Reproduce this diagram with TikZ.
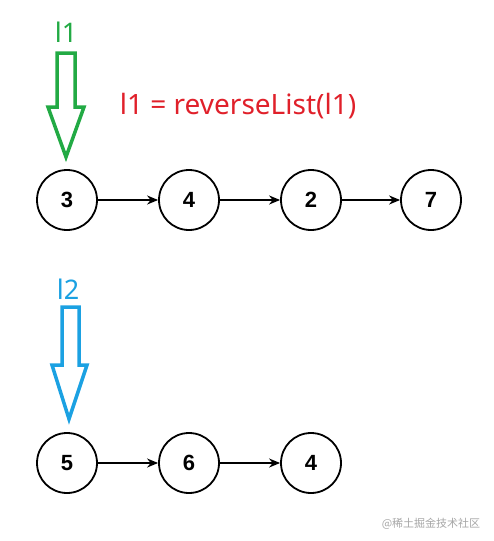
\documentclass[tikz,border=0pt]{standalone}
\usepackage{fontspec}
\setmainfont{Liberation Sans}
\newfontfamily\labelfont{Noto Sans}
\newfontfamily\cjkfont{Noto Sans CJK SC}
\usetikzlibrary{positioning,arrows.meta}

\definecolor{listgreen}{RGB}{34,170,68}
\definecolor{listred}{RGB}{224,32,42}
\definecolor{listblue}{RGB}{27,161,226}

\begin{document}
\begin{tikzpicture}[x=1pt, y=-1pt,
    listnode/.style={circle, draw, line width=1.8pt, minimum size=60pt, inner sep=0pt, font=\fontsize{22}{22}\selectfont\bfseries},
    nextptr/.style={line width=1.6pt, -{Stealth[length=11pt, width=9pt]}},
    headptr/.style={line width=3.5pt, line join=miter}]
  \useasboundingbox (0,0) rectangle (493,541);

  % first list l1
  \node[listnode] (a3) at (67, 200) {3};
  \node[listnode] (a4) at (189, 200) {4};
  \node[listnode] (a2) at (311, 200) {2};
  \node[listnode] (a7) at (431, 200) {7};
  \draw[nextptr] (a3) -- (a4);
  \draw[nextptr] (a4) -- (a2);
  \draw[nextptr] (a2) -- (a7);

  % head pointer l1
  \node[text=listgreen, font=\labelfont\fontsize{27}{27}\selectfont] (headA) at (66, 32) {l1};
  \draw[headptr, listgreen] (57,53) -- (75,53) -- (75,107) -- (84,107) -- (66,157) -- (48,107) -- (57,107) -- cycle;
  \node[text=listred, font=\labelfont\fontsize{28}{28}\selectfont] (call) at (238, 106) {l1 = reverseList(l1)};

  % second list l2
  \node[listnode] (b5) at (67, 463) {5};
  \node[listnode] (b6) at (189, 463) {6};
  \node[listnode] (b4) at (311, 463) {4};
  \draw[nextptr] (b5) -- (b6);
  \draw[nextptr] (b6) -- (b4);

  % head pointer l2
  \node[text=listblue, font=\labelfont\fontsize{27}{27}\selectfont] (headB) at (68, 289) {l2};
  \draw[headptr, listblue] (62,307) -- (79,307) -- (79,365) -- (87,365) -- (69,419) -- (52,365) -- (62,365) -- cycle;

  % watermark
  \node[text=black!35, font=\cjkfont\fontsize{11}{11}\selectfont] (mark) at (431, 524) {@稀土掘金技术社区};
\end{tikzpicture}
\end{document}
